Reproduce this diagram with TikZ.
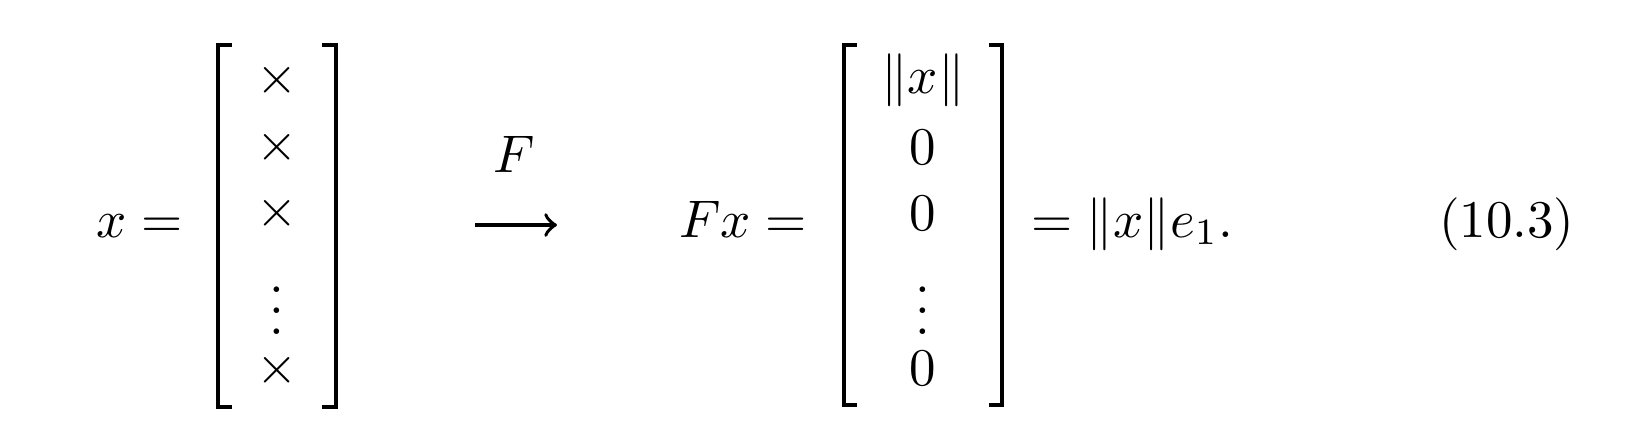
\documentclass[tikz,border=0pt]{standalone}
\usepackage{amsmath,amssymb}
\begin{document}
\begin{tikzpicture}[x=0.00663cm,y=-0.00663cm,
    bracket/.style={line width=0.9pt},
    entry/.style={inner sep=0pt},
    eqtext/.style={inner sep=0pt,anchor=base west}]
    \useasboundingbox (0,0) rectangle (1644,446);
    \node[eqtext] (lhs) at (95,237) {$x =$};
    \draw[bracket] (232,45) -- (218,45) -- (218,407) -- (232,407);
    \draw[bracket] (322,45) -- (336,45) -- (336,407) -- (322,407);
    \node[entry] (xa) at (277,80) {$\times$};
    \node[entry] (xb) at (277,147) {$\times$};
    \node[entry] (xc) at (277,213) {$\times$};
    \node[entry] (xd) at (277,295) {$\vdots$};
    \node[entry] (xe) at (277,370) {$\times$};
    \coordinate (arrS) at (475,225);
    \coordinate (arrE) at (557,225);
    \draw[->,>=to,line width=0.7pt] (arrS) -- (arrE);
    \node[inner sep=0pt,anchor=base] (map) at (514,172) {$F$};
    \node[eqtext] (fx) at (678,237) {$Fx =$};
    \draw[bracket] (857,45) -- (844,45) -- (844,405) -- (857,405);
    \draw[bracket] (989,45) -- (1002,45) -- (1002,405) -- (989,405);
    \node[entry] (ya) at (923,80) {$\|x\|$};
    \node[entry] (yb) at (923,147) {$0$};
    \node[entry] (yc) at (923,213) {$0$};
    \node[entry] (yd) at (923,295) {$\vdots$};
    \node[entry] (ye) at (923,368) {$0$};
    \node[eqtext] (rhs) at (1030,237) {$= \|x\| e_1.$};
    \node[eqtext] (num) at (1438,237) {(10.3)};
\end{tikzpicture}
\end{document}
